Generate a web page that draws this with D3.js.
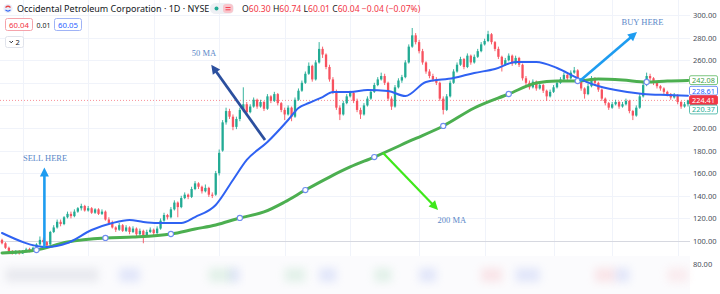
<!DOCTYPE html>
<html><head><meta charset="utf-8">
<script src="https://cdn.jsdelivr.net/npm/d3@7"></script>
<style>html,body{margin:0;padding:0;background:#fff;}svg{display:block;}</style>
</head><body>
<svg id="c" width="720" height="294"></svg>
<script>
// ---------- DATA ----------
const opens = [101,98,94,91,89,91,89,91,93,91, 94,97,101,99,97,108,112,117,115,121, 124,122,126,129,131,127,129,125,128,124,
 126,119,116,112,110,114,109,112,108,111, 106,109,105,108,110,107,111,118,123,121, 128,134,130,138,141,139,146,151,148,144,
 147,141,141,160,180,205,215,210,201,208, 216,221,214,219,225,219,223,217,228,224, 230,222,216,212,218,210,225,233,240,248,
 255,243,258,270,265,254,243,232,218,212, 222,228,231,224,216,212,220,226,232,238, 243,246,240,226,219,236,242,245,258,272,
 282,276,268,258,250,246,243,240,226,216, 228,240,250,256,261,254,264,258,263,268, 274,277,283,276,270,263,256,260,264,257,
 262,256,244,240,236,241,235,238,233,228, 232,236,240,243,247,244,249,251,242,235, 230,237,244,240,234,226,222,218,221,223,
 219,221,224,215,211,218,228,238,246,244, 240,237,235,232,230,227,229,223,219,221];
const highs = [102,99,95,92,92,92,92,94,94,95, 98,104,103,100,109,114,119,119,122,126, 126,128,130,133,132,131,130,129,129,128,
 127,121,118,113,116,115,114,113,113,112, 111,110,110,112,111,113,120,125,124,130, 136,135,140,143,142,148,153,152,149,150,
 148,143,162,181,207,218,217,212,210,218, 236,223,221,227,226,225,224,230,229,232, 231,223,218,220,219,227,235,242,250,258,
 256,260,276,272,266,256,245,234,220,224, 230,233,232,226,218,222,228,234,240,245, 249,248,241,228,238,244,247,260,274,288.5,
 284,278,270,259,252,248,245,241,228,230, 242,252,258,263,262,266,265,265,270,276, 279,286,284,277,272,264,262,266,265,264,
 263,257,246,242,243,242,240,239,234,234, 238,242,245,249,248,251,254,252,243,236, 239,246,245,241,235,227,223,223,225,224,
 223,226,225,216,220,230,240,249,248,245, 241,238,236,233,231,231,230,224,223,225];
const lows = [97,93,90,88,88,88,88.5,90,90,90.5, 93,96,98,94,96,107,111,113,114,120, 120,121,125,127,126,126,124,124,123,123,
 118,115,111,108,109,108,108,106,107,104, 105,98,104,107,105,106,110,117,119,120, 127,121,129,137,137,138,145,146,142,143,
 139,138,140,158,179,203,208,198,199,206, 214,212,213,218,217,218,215,216,222,223, 220,214,207,211,206,209,224,232,239,247,
 241,242,257,262,252,241,230,216,207,211, 221,227,222,214,208,211,219,225,231,237, 242,238,224,216,218,235,240,244,257,271,
 274,266,256,248,244,241,238,224,212,215, 227,239,249,255,252,253,256,257,262,267, 273,276,274,268,261,250,255,259,255,256,
 254,242,238,234,235,233,234,231,224,227, 231,235,239,242,242,243,248,240,233,226, 229,236,238,232,224,220,216,217,220,217,
 218,220,213,207,210,217,227,237,242,238, 235,233,230,228,225,226,221,217,218,219];
const closes = [98,94,91,89.5,90.5,89,91,92.5,91.5,94, 97,101,99,96,108,112,117,115,121,124, 122,126,129,131,127,129,125,128,124,126,
 119,116,112,110,114,109,112,108,111,106, 109,105,108,110,107,111,118,123,121,128, 134,130,138,141,139,146,151,148,144,147,
 141,140,160,178,205,215,210,201,208,216, 221,214,219,225,219,223,217,228,224,230, 222,216,212,218,210,225,233,240,248,255,
 243,258,270,265,254,243,232,218,212,222, 228,231,224,216,212,220,226,232,238,243, 246,240,226,219,236,242,245,258,272,282,
 276,268,258,250,246,243,240,226,216,228, 240,250,256,261,254,264,258,263,268,274, 277,283,276,270,263,256,260,264,257,262,
 256,244,240,236,241,235,238,233,228,232, 236,240,243,247,244,249,251,242,235,230, 237,244,240,234,226,222,218,221,223,219,
 221,224,215,211,218,228,238,246,244,240, 237,235,232,230,227,229,223,219,221,224.41];

// 50-day MA (candle index, value)
const ma50Idx = [0,13,19,26,32,37,41,45,52,56,62,67,71,77,83,86,89,93,96,101,106,112,117,123,131,137,143,149,155,161,167,172,178,186,193,199];
const ma50Val = [107.1,94.7,98.2,109.7,115.9,118.6,116.8,115.9,115.9,121.2,131.9,154,171.7,187.6,207.1,217.7,222.1,227.4,231.9,231.9,233.6,232.7,228.3,240.7,244.2,248.7,252.2,258.4,258.4,253.1,244.2,238.1,233.6,230.1,229.2,228.61];
// 200-day MA
const ma200Idx = [0,10,19,30,38,49,56,62,69,76,82,88,95,101,108,119,128,137,147,155,161,167,173,180,187,193,199];
const ma200Val = [89.4,92.0,99.1,102.7,103.5,106.2,110.6,114.2,120.4,125.7,134.5,145.1,156.6,165.5,174.3,189.4,201.8,217.7,230.1,239.8,241.6,241.6,243.4,242.5,240.7,241.6,242.08];
const markerIdx = [10,30,49,69,88,108,128,147,167,187];

const gridTicks = [80,100,120,140,160,180,200,220,240,260,280,300];
const axisLabels = [80,100,120,140,160,180,200,260,280,300];
const monthStartIdx = [6,25,44,63,82,101,121,140,160,177,196];
const lastLabels = [
  {v:242.08, kind:"ma200"},
  {v:228.61, kind:"ma50"},
  {v:224.41, kind:"last"},
  {v:220.37, kind:"low"}
];
const annotations = [
  {text:"SELL HERE", tx:12.5, tv:170.5, from:[12.3,94.2], to:[12.3,165], color:"#1e9cf0", w:2.6},
  {text:"50 MA", tx:58.6, tv:263.5, from:[76.3,189.4], to:[60.7,256], color:"#2b4f9e", w:2.8},
  {text:"200 MA", tx:130.5, tv:115.5, from:[110.5,178], to:[126.5,127.5], color:"#3ee81a", w:2.2},
  {text:"BUY HERE", tx:185.8, tv:291, from:[167.6,241.6], to:[184.2,285], color:"#1e9cf0", w:2.6}
];
const blurBlobs = [
  {i0:1,i1:28,c:"#c7cad6"},{i0:34,i1:40,c:"#b3c0f3"},{i0:60,i1:67,c:"#b5dec4"},{i0:66,i1:69,c:"#b3c0f3"},
  {i0:82,i1:88,c:"#b5dec4"},{i0:92,i1:97,c:"#b3c0f3"},{i0:108,i1:113,c:"#b5dec4"},{i0:121,i1:126,c:"#b3c0f3"},
  {i0:139,i1:145,c:"#f6bcc2"},{i0:149,i1:156,c:"#b3c0f3"},{i0:172,i1:178,c:"#f6bcc2"},{i0:178,i1:182,c:"#b3c0f3"},
  {i0:193,i1:199,c:"#f8d0d5"}
];

// ---------- DRAW ----------
const svg = d3.select("#c");
const plotRight = 690;
const x = d3.scaleLinear().domain([0,199]).range([2,688]);
const y = d3.scaleLinear().domain([100,300]).range([241,15]);
const FONT = "'Noto Sans', 'Liberation Sans', sans-serif";

const defs = svg.append("defs");
defs.append("filter").attr("id","blur").attr("x","-50%").attr("y","-50%").attr("width","200%").attr("height","200%")
  .append("feGaussianBlur").attr("stdDeviation",4);

// grid
const grid = svg.append("g");
grid.selectAll("line.h").data(gridTicks).join("line")
  .attr("x1",0).attr("x2",plotRight).attr("y1",d=>Math.round(y(d))+0.5).attr("y2",d=>Math.round(y(d))+0.5)
  .attr("stroke","#f0f3fa").attr("stroke-width",1);
grid.selectAll("line.v").data(monthStartIdx).join("line")
  .attr("x1",d=>Math.round(x(d))+0.5).attr("x2",d=>Math.round(x(d))+0.5).attr("y1",0).attr("y2",294)
  .attr("stroke","#f0f3fa").attr("stroke-width",1);

// blurred volume pane
const vol = svg.append("g");
vol.append("rect").attr("x",0).attr("y",256).attr("width",plotRight).attr("height",38).attr("fill","#fbfbfd");
vol.selectAll("rect.b").data(blurBlobs).join("rect")
  .attr("x",d=>x(d.i0)).attr("width",d=>x(d.i1)-x(d.i0)).attr("y",268).attr("height",14)
  .attr("fill",d=>d.c).attr("opacity",0.35).attr("filter","url(#blur)");

// pane separator line at 100
svg.append("line").attr("x1",0).attr("x2",plotRight).attr("y1",Math.round(y(100))+0.5).attr("y2",Math.round(y(100))+0.5)
  .attr("stroke","#d6d8e0").attr("stroke-width",1);

// last price dotted line
svg.append("line").attr("x1",0).attr("x2",plotRight)
  .attr("y1",y(closes[closes.length-1])).attr("y2",y(closes[closes.length-1]))
  .attr("stroke","#f23645").attr("stroke-opacity",0.55).attr("stroke-dasharray","1,2").attr("stroke-width",1);

// candles
const idx = d3.range(closes.length);
const up = "#22ab94", dn = "#f7525f";
const cg = svg.append("g");
cg.selectAll("line").data(idx).join("line")
  .attr("x1",i=>x(i)).attr("x2",i=>x(i)).attr("y1",i=>y(highs[i])).attr("y2",i=>y(lows[i]))
  .attr("stroke",i=>closes[i]>=opens[i]?up:dn).attr("stroke-width",0.9);
cg.selectAll("rect").data(idx).join("rect")
  .attr("x",i=>x(i)-1.15).attr("width",2.3)
  .attr("y",i=>y(Math.max(opens[i],closes[i])))
  .attr("height",i=>Math.max(1,Math.abs(y(opens[i])-y(closes[i]))))
  .attr("fill",i=>closes[i]>=opens[i]?up:dn);

// MA lines
const line = d3.line().x(d=>x(d[0])).y(d=>y(d[1])).curve(d3.curveMonotoneX);
const ma200 = ma200Idx.map((d,k)=>[d,ma200Val[k]]);
const ma50 = ma50Idx.map((d,k)=>[d,ma50Val[k]]);
svg.append("path").attr("d",line(ma200)).attr("fill","none").attr("stroke","#4caf50").attr("stroke-width",3).attr("stroke-linecap","round");
svg.append("path").attr("d",line(ma50)).attr("fill","none").attr("stroke","#2f62f2").attr("stroke-width",2).attr("stroke-linecap","round");

// markers
svg.selectAll("circle.m").data(markerIdx).join("circle")
  .attr("cx",d=>x(d)).attr("cy",d=>y(ma200Val[ma200Idx.indexOf(d)]))
  .attr("r",2.6).attr("fill","#fff").attr("stroke","#6f8cf0").attr("stroke-width",1.1);

// annotations
const ag = svg.append("g");
annotations.forEach(a=>{
  const x1=x(a.from[0]), y1=y(a.from[1]), x2=x(a.to[0]), y2=y(a.to[1]);
  const dx=x2-x1, dy=y2-y1, L=Math.hypot(dx,dy), ux=dx/L, uy=dy/L;
  const hl=9, hw=4.5;
  const bx=x2-ux*hl, by=y2-uy*hl;
  ag.append("line").attr("x1",x1).attr("y1",y1).attr("x2",bx+ux*1).attr("y2",by+uy*1)
    .attr("stroke",a.color).attr("stroke-width",a.w);
  ag.append("path").attr("d",`M${x2},${y2}L${bx-uy*hw},${by+ux*hw}L${bx+uy*hw},${by-ux*hw}Z`).attr("fill",a.color);
  ag.append("text").attr("x",x(a.tx)).attr("y",y(a.tv)).attr("text-anchor","middle")
    .attr("font-family","'Liberation Serif','DejaVu Serif',serif").attr("font-size",8.5)
    .attr("fill","#5a88c8").text(a.text);
});

// right axis
const axis = d3.axisRight(y).tickValues(axisLabels).tickSize(0).tickPadding(3).tickFormat(d3.format(".2f"));
const ax = svg.append("g").attr("transform",`translate(${plotRight},0)`).call(axis);
ax.select(".domain").remove();
ax.selectAll("text").attr("font-family",FONT).attr("font-size",7.5).attr("fill","#4a4e5a");

// price label boxes with collision avoidance
const h = 9.4;
const sorted = lastLabels.map(d=>({...d, py:y(d.v)}));
const li = sorted.findIndex(d=>d.kind==="last");
for(let k=li-1;k>=0;k--) sorted[k].py=Math.min(sorted[k].py, sorted[k+1].py-h);
for(let k=li+1;k<sorted.length;k++) sorted[k].py=Math.max(sorted[k].py, sorted[k-1].py+h);
const styles = {ma200:{stroke:"#6cc070",fill:"#fff",text:"#43a047"}, ma50:{stroke:"#5b84f5",fill:"#fff",text:"#2962ff"},
  last:{stroke:"#f23645",fill:"#f23645",text:"#fff"}, low:{stroke:"#4cb8a8",fill:"#fff",text:"#22ab94"}};
const lg = svg.append("g");
sorted.forEach(d=>{
  const s=styles[d.kind];
  lg.append("rect").attr("x",689.5).attr("y",d.py-h/2).attr("width",28).attr("height",h-0.6).attr("rx",1.5)
    .attr("fill",s.fill).attr("stroke",s.stroke).attr("stroke-width",0.9);
  lg.append("text").attr("x",703.5).attr("y",d.py+2.6).attr("text-anchor","middle")
    .attr("font-family",FONT).attr("font-size",7.3).attr("fill",s.text).text(d3.format(".2f")(d.v));
});

// header
const hd = svg.append("g").attr("font-family",FONT);
hd.append("circle").attr("cx",8).attr("cy",8.5).attr("r",4.6).attr("fill","#e9eefb");
hd.append("path").attr("d","M5.5,7.5 Q8,5 10.5,7.5").attr("fill","none").attr("stroke","#e84545").attr("stroke-width",1.2);
hd.append("path").attr("d","M5.5,9.8 Q8,12.3 10.5,9.8").attr("fill","none").attr("stroke","#2f62f2").attr("stroke-width",1.2);
hd.append("text").attr("x",17).attr("y",12).attr("font-size",9).attr("fill","#131722")
  .text("Occidental Petroleum Corporation · 1D · NYSE");
hd.append("rect").attr("x",210).attr("y",3).attr("width",24).attr("height",11).attr("rx",5.5).attr("fill","#eef0f4");
hd.append("circle").attr("cx",216.5).attr("cy",8.5).attr("r",2).attr("fill","#22ab94");
hd.append("rect").attr("x",223).attr("y",4).attr("width",10).attr("height",9).attr("rx",3).attr("fill","#f9c5cc");
hd.append("path").attr("d","M225.5,7.5H230.5M225.5,9.8H230.5").attr("stroke","#f23645").attr("stroke-width",0.9);
const ohlc = hd.append("text").attr("x",242).attr("y",12).attr("font-size",8.6);
[["O","#131722"],["60.30 ","#f23645"],["H","#131722"],["60.74 ","#f23645"],["L","#131722"],["60.01 ","#f23645"],
 ["C","#131722"],["60.04 ","#f23645"],["−0.04 (−0.07%)","#f23645"]].forEach(p=>ohlc.append("tspan").attr("fill",p[1]).text(p[0]));
hd.append("rect").attr("x",5.5).attr("y",18.5).attr("width",27).attr("height",12).attr("rx",2).attr("fill","#fff").attr("stroke","#f5a3ab");
hd.append("text").attr("x",19).attr("y",27.5).attr("text-anchor","middle").attr("font-size",7.8).attr("fill","#f23645").text("60.04");
hd.append("text").attr("x",43.5).attr("y",27.5).attr("text-anchor","middle").attr("font-size",7).attr("fill","#131722").text("0.01");
hd.append("rect").attr("x",54.5).attr("y",18.5).attr("width",27).attr("height",12).attr("rx",2).attr("fill","#fff").attr("stroke","#9fb3f6");
hd.append("text").attr("x",68).attr("y",27.5).attr("text-anchor","middle").attr("font-size",7.8).attr("fill","#2962ff").text("60.05");
hd.append("rect").attr("x",5.5).attr("y",36.5).attr("width",18).attr("height",11).attr("rx",2).attr("fill","#fff").attr("stroke","#e0e3eb");
hd.append("path").attr("d","M9.5,41L11.2,42.8L13,41").attr("fill","none").attr("stroke","#131722").attr("stroke-width",0.9);
hd.append("text").attr("x",15.5).attr("y",45).attr("font-size",7.5).attr("fill","#131722").text("2");
</script>
</body></html>
